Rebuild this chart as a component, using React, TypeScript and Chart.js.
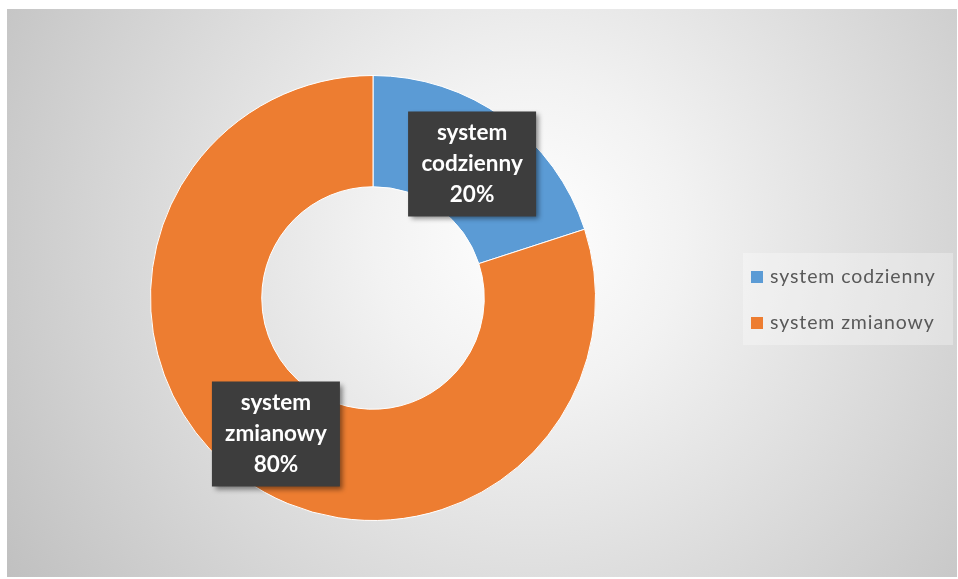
import React, { useEffect, useRef } from "react";
import { Chart, registerables } from "chart.js";

Chart.register(...registerables);

const categories = ["system codzienny", "system zmianowy"];
const shares = [20, 80];
const sliceColors = ["#5B9BD5", "#ED7D31"];

const FONT = "Lato, 'Open Sans', sans-serif";

const overlayPlugin = {
  id: "overlayLabels",
  afterDatasetsDraw(chart: any) {
    const ctx: CanvasRenderingContext2D = chart.ctx;
    const meta = chart.getDatasetMeta(0);
    const total = shares.reduce((a, b) => a + b, 0);
    meta.data.forEach((arc: any, i: number) => {
      const p = arc.tooltipPosition();
      const w = 128;
      const h = 105;
      ctx.save();
      ctx.shadowColor = "rgba(0,0,0,0.45)";
      ctx.shadowBlur = 5;
      ctx.shadowOffsetX = 3;
      ctx.shadowOffsetY = 3;
      ctx.fillStyle = "#3d3d3d";
      ctx.fillRect(p.x - w / 2 + 1, p.y - h / 2 + 1, w, h);
      ctx.restore();
      const lines = [...categories[i].split(" "), Math.round((shares[i] / total) * 100) + "%"];
      ctx.save();
      ctx.fillStyle = "#ffffff";
      ctx.font = `bold 22.5px ${FONT}`;
      ctx.textAlign = "center";
      ctx.textBaseline = "middle";
      lines.forEach((ln, k) => {
        ctx.fillText(ln, p.x + 1, p.y + 1 + (k - 1) * 31);
      });
      ctx.restore();
    });

    // legend
    ctx.save();
    ctx.fillStyle = "rgba(255,255,255,0.3)";
    ctx.fillRect(736, 244, 210, 92);
    categories.forEach((c, i) => {
      const cy = 268 + i * 46;
      ctx.fillStyle = sliceColors[i];
      ctx.fillRect(744, cy - 6, 12, 12);
      ctx.fillStyle = "#595959";
      ctx.font = `19.5px ${FONT}`;
      (ctx as any).letterSpacing = "0.9px";
      ctx.textAlign = "left";
      ctx.textBaseline = "middle";
      ctx.fillText(c, 763, cy);
    });
    ctx.restore();
  },
};

export default function App() {
  const ref = useRef<HTMLCanvasElement>(null);
  useEffect(() => {
    if (!ref.current) return;
    const chart = new Chart(ref.current, {
      type: "doughnut",
      data: {
        labels: categories,
        datasets: [
          {
            data: shares,
            backgroundColor: sliceColors,
            borderColor: "#ffffff",
            borderWidth: 1,
          },
        ],
      },
      options: {
        responsive: true,
        maintainAspectRatio: false,
        animation: false,
        cutout: "50%",
        layout: { padding: { left: 143, top: 66, right: 361, bottom: 56 } },
        plugins: {
          legend: { display: false },
          tooltip: { enabled: false },
        },
      },
      plugins: [overlayPlugin],
    });
    return () => chart.destroy();
  }, []);
  return (
    <div
      style={{
        position: "absolute",
        left: 7,
        top: 9,
        width: 950,
        height: 568,
        background:
          "radial-gradient(circle farthest-corner at 55% 40%, #ffffff 0%, #f2f2f2 25%, #c0c0c0 100%)",
      }}
    >
      <canvas ref={ref} />
    </div>
  );
}
